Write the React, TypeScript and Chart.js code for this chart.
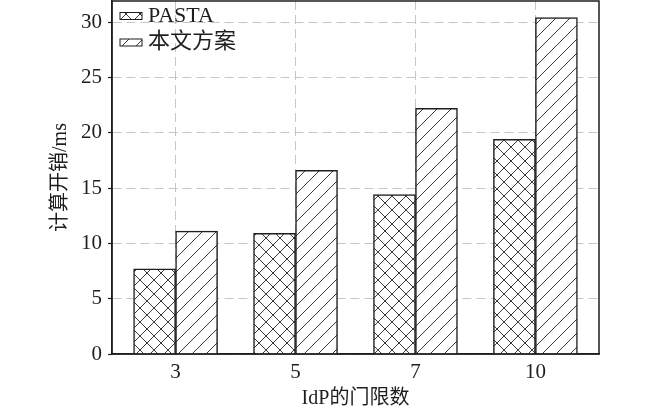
import React, { useEffect, useRef } from 'react';
import { Chart, registerables } from 'chart.js';

Chart.register(...registerables);

const categories = ['3', '5', '7', '10'];
const seriesLabels = ['PASTA', '本文方案'];
const pastaValues = [7.7, 10.9, 14.4, 19.4];
const oursValues = [11.1, 16.6, 22.2, 30.4];
const yTicks = [0, 5, 10, 15, 20, 25, 30];
const xTitle = 'IdP的门限数';
const yTitle = '计算开销/ms';

const SERIF = "'Liberation Serif', 'Times New Roman', 'Noto Sans CJK SC', serif";
const INK = '#1e1e1e';

function makeTile(kind: 'cross' | 'slash') {
  const s = 14;
  const c = document.createElement('canvas');
  c.width = s;
  c.height = s;
  const g = c.getContext('2d')!;
  g.fillStyle = '#ffffff';
  g.fillRect(0, 0, s, s);
  g.strokeStyle = '#3a3a3a';
  g.lineWidth = 1;
  g.beginPath();
  g.moveTo(-1, s + 1);
  g.lineTo(s + 1, -1);
  g.moveTo(-1, 1);
  g.lineTo(1, -1);
  g.moveTo(s - 1, s + 1);
  g.lineTo(s + 1, s - 1);
  if (kind === 'cross') {
    g.moveTo(-1, -1);
    g.lineTo(s + 1, s + 1);
    g.moveTo(s - 1, -1);
    g.lineTo(s + 1, 1);
    g.moveTo(-1, s - 1);
    g.lineTo(1, s + 1);
  }
  g.stroke();
  return c;
}

const framePlugin = {
  id: 'frameBox',
  afterDatasetsDraw(chart: any) {
    const { ctx, chartArea } = chart;
    ctx.save();
    ctx.strokeStyle = INK;
    ctx.lineWidth = 1.5;
    ctx.strokeRect(chartArea.left, chartArea.top, chartArea.right - chartArea.left, chartArea.bottom - chartArea.top);
    ctx.restore();
  },
};

const innerLegendPlugin = {
  id: 'innerLegend',
  afterDraw(chart: any) {
    const { ctx, chartArea } = chart;
    ctx.save();
    ctx.font = `22px ${SERIF}`;
    ctx.textBaseline = 'middle';
    ctx.textAlign = 'left';
    chart.data.datasets.forEach((ds: any, i: number) => {
      const y = chartArea.top + 15 + i * 26.5;
      const x = chartArea.left + 8;
      ctx.fillStyle = ds.backgroundColor;
      ctx.fillRect(x, y - 3.5, 22, 7);
      ctx.strokeStyle = INK;
      ctx.lineWidth = 1;
      ctx.strokeRect(x, y - 3.5, 22, 7);
      ctx.fillStyle = INK;
      ctx.fillText(ds.label, x + 28, y);
    });
    ctx.restore();
  },
};

export default function App() {
  const canvasRef = useRef<HTMLCanvasElement | null>(null);

  useEffect(() => {
    const canvas = canvasRef.current;
    if (!canvas) return;
    const ctx2d = canvas.getContext('2d')!;
    const crossPattern = ctx2d.createPattern(makeTile('cross'), 'repeat');
    const slashPattern = ctx2d.createPattern(makeTile('slash'), 'repeat');

    const tickFont = { family: SERIF, size: 21, lineHeight: 1.2 };
    const titleFont = { family: SERIF, size: 20, lineHeight: 1.2 };

    const chart = new Chart(canvas, {
      type: 'bar',
      data: {
        datasets: [
          {
            label: seriesLabels[0],
            data: categories.map((_, i) => ({ x: i, y: pastaValues[i] })),
            backgroundColor: crossPattern as any,
            borderColor: INK,
            borderWidth: 1.5,
            barThickness: 42,
          },
          {
            label: seriesLabels[1],
            data: categories.map((_, i) => ({ x: i, y: oursValues[i] })),
            backgroundColor: slashPattern as any,
            borderColor: INK,
            borderWidth: 1.5,
            barThickness: 42,
          },
        ],
      },
      options: {
        responsive: false,
        animation: false,
        devicePixelRatio: 1,
        layout: { padding: { top: 1, right: 51, left: 0, bottom: 0 } },
        plugins: {
          legend: { display: false },
          tooltip: { enabled: false },
        },
        scales: {
          x: {
            type: 'linear',
            min: -0.53,
            max: 3.53,
            offset: false,
            afterBuildTicks: (s: any) => {
              s.ticks = categories.map((_, i) => ({ value: i }));
            },
            afterFit: (s: any) => {
              s.height = 60;
              s.paddingLeft = 0;
              s.paddingRight = 0;
            },
            grid: { color: '#c6c6c6', lineWidth: 1, drawTicks: false, offset: false },
            border: { color: INK, width: 1.5, dash: [9, 5] },
            ticks: {
              callback: (_v: any, i: number) => categories[i],
              font: tickFont,
              color: INK,
              padding: 6,
              autoSkip: false,
              maxRotation: 0,
            },
            title: {
              display: true,
              text: xTitle,
              font: titleFont,
              color: INK,
              padding: { top: 0, bottom: 3 },
            },
          },
          y: {
            type: 'linear',
            min: 0,
            max: 31.9,
            afterBuildTicks: (s: any) => {
              s.ticks = yTicks.map((v) => ({ value: v }));
            },
            afterFit: (s: any) => {
              s.width = 112;
              s.paddingTop = 0;
              s.paddingBottom = 0;
            },
            grid: {
              color: '#c6c6c6',
              lineWidth: 1,
              tickColor: INK,
              tickLength: 4,
              tickWidth: 1.2,
              tickBorderDash: [],
            },
            border: { color: INK, width: 1.5, dash: [9, 5] },
            ticks: { font: tickFont, color: INK, padding: 6 },
            title: {
              display: true,
              text: yTitle,
              font: titleFont,
              color: INK,
              padding: { top: 49, bottom: 0 },
            },
          },
        },
      } as any,
      plugins: [framePlugin, innerLegendPlugin],
    });

    return () => chart.destroy();
  }, []);

  return (
    <div style={{ position: 'fixed', left: 0, top: 0, width: 650, height: 414, background: '#fff' }}>
      <canvas ref={canvasRef} width={650} height={414} style={{ display: 'block' }} />
    </div>
  );
}
